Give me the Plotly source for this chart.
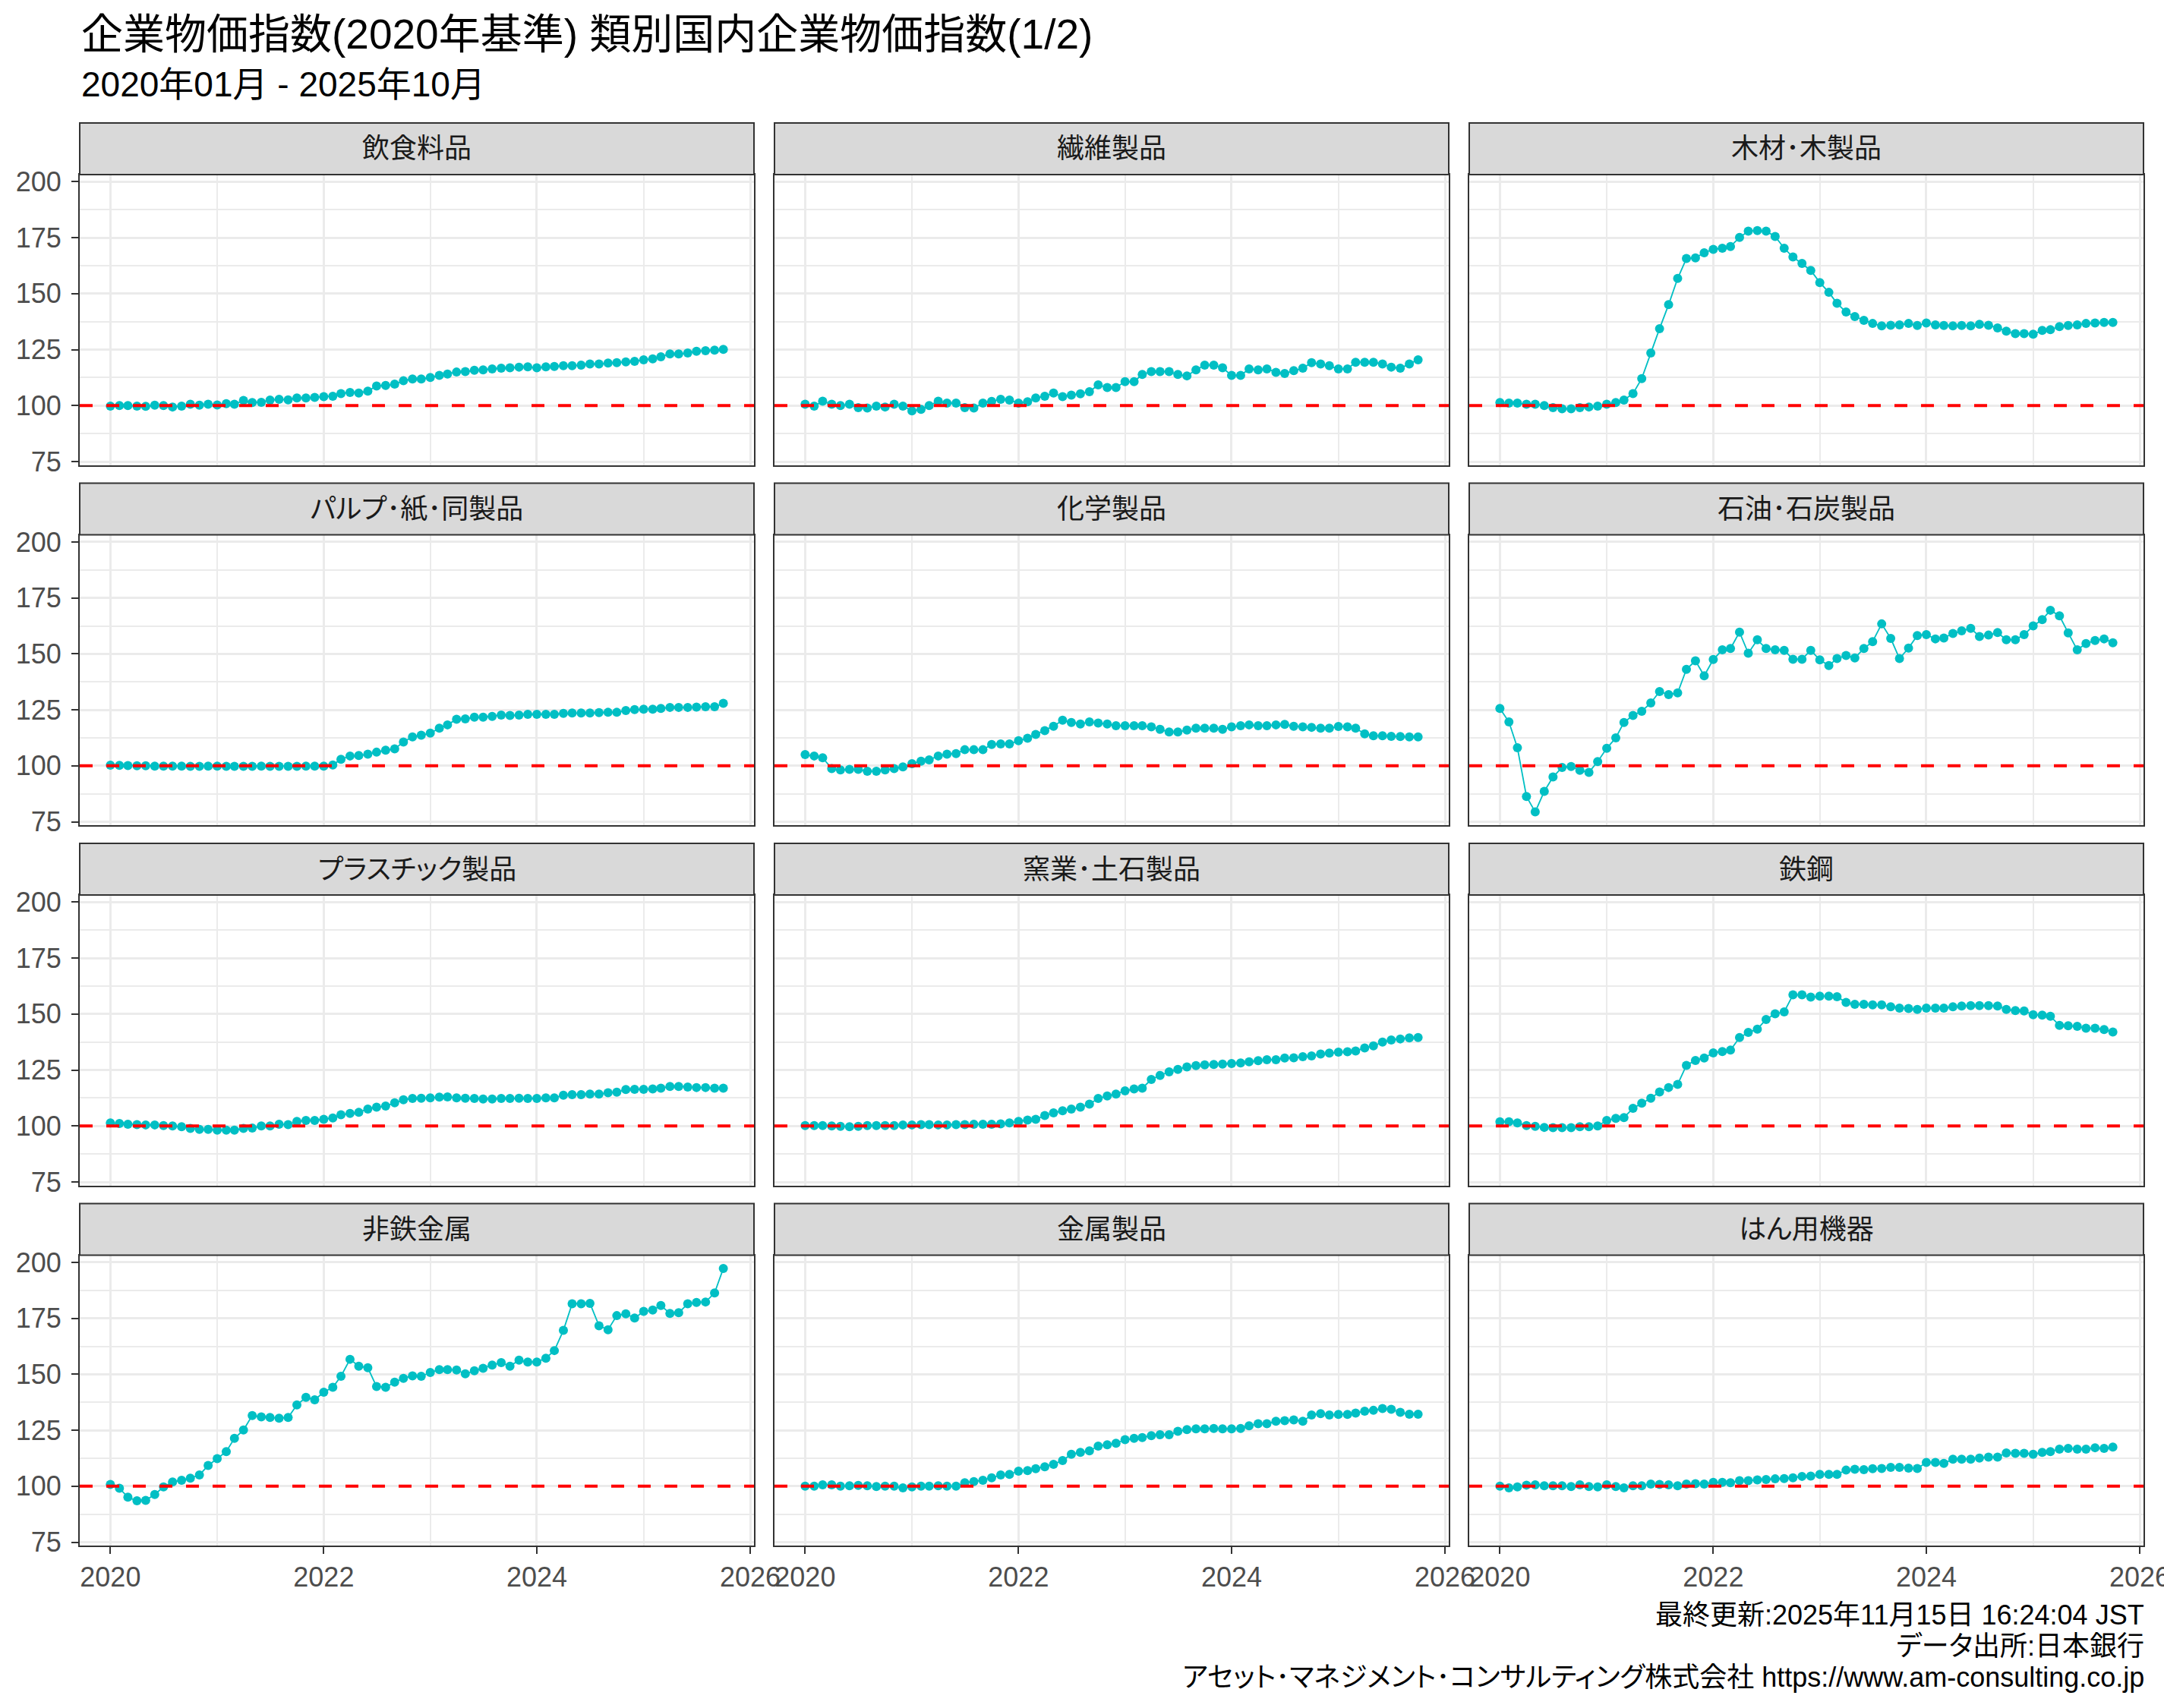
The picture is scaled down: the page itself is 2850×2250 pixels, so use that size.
import pandas as pd
import plotly.graph_objects as go

# ---------------- data ----------------
DATES = pd.date_range("2020-01-01", periods=70, freq="MS")

CATEGORIES = ["飲食料品", "繊維製品", "木材･木製品",
              "パルプ･紙･同製品", "化学製品", "石油･石炭製品",
              "プラスチック製品", "窯業･土石製品", "鉄鋼",
              "非鉄金属", "金属製品", "はん用機器"]

FOOD = [99.8, 100.0, 100.0, 99.8, 99.7, 100.2, 100.0, 99.4, 99.8, 100.6, 100.2, 100.6,
        100.3, 100.9, 100.6, 102.3, 101.4, 101.5, 102.5, 102.8, 102.6, 103.4, 103.4, 103.7,
        104.0, 104.2, 105.4, 105.9, 105.6, 106.5, 108.8, 109.0, 109.6, 111.1, 111.9, 111.9,
        112.6, 113.5, 114.1, 115.0, 115.2, 115.8, 116.0, 116.4, 116.7, 116.9, 117.2, 117.3,
        116.9, 117.3, 117.5, 117.8, 117.8, 118.1, 118.6, 118.6, 119.0, 119.2, 119.5, 119.8,
        120.5, 120.9, 121.8, 123.1, 123.1, 123.5, 124.3, 124.5, 124.8, 125.1]

TEXTILE = [100.6, 99.8, 102.0, 100.6, 100.0, 100.6, 99.1, 98.9, 99.8, 99.4, 100.6, 99.8,
           97.7, 98.3, 100.0, 102.0, 101.1, 101.1, 99.1, 98.9, 101.1, 101.9, 102.8, 102.5,
           101.1, 101.7, 103.4, 104.2, 105.6, 104.0, 104.7, 105.3, 106.2, 109.3, 108.1, 108.1,
           110.7, 110.7, 113.9, 115.2, 115.2, 115.2, 113.9, 113.3, 116.0, 118.1, 118.1, 116.9,
           113.5, 113.5, 116.4, 116.0, 116.4, 114.9, 114.4, 115.6, 116.7, 119.2, 118.6, 117.8,
           116.4, 116.4, 119.4, 119.4, 119.4, 118.6, 117.2, 116.7, 118.6, 120.5]

WOOD = [101.4, 101.1, 101.1, 100.6, 100.6, 100.0, 99.1, 98.6, 98.6, 99.1, 99.4, 99.8,
        100.6, 101.4, 102.5, 105.4, 112.1, 123.5, 134.4, 145.1, 156.8, 165.7, 166.0, 168.3,
        169.8, 170.3, 171.1, 175.1, 177.9, 178.2, 177.9, 175.6, 170.3, 166.4, 163.5, 160.4,
        155.0, 150.6, 145.7, 141.8, 139.8, 138.1, 136.7, 135.6, 135.9, 136.1, 136.7, 135.8,
        136.9, 136.1, 135.8, 135.6, 135.8, 135.6, 136.3, 135.9, 134.7, 133.3, 132.2, 132.2,
        131.9, 133.6, 133.9, 135.3, 135.8, 136.1, 136.7, 136.9, 137.2, 137.2]

PULP = [100.3, 100.2, 100.1, 100.0, 100.0, 99.9, 99.9, 99.9, 99.9, 99.8, 99.8, 99.9,
        99.9, 99.8, 99.8, 99.8, 99.8, 99.9, 99.8, 99.8, 99.8, 99.8, 99.9, 99.9,
        99.9, 100.4, 102.9, 104.4, 104.6, 105.2, 106.1, 107.0, 107.6, 110.6, 112.9, 113.7,
        114.6, 116.8, 118.3, 120.8, 121.0, 121.7, 121.7, 122.1, 122.7, 122.5, 122.7, 123.0,
        123.0, 123.0, 123.0, 123.4, 123.6, 123.6, 123.6, 123.8, 123.9, 123.9, 124.7, 125.1,
        125.3, 125.3, 125.6, 126.1, 126.1, 126.1, 126.2, 126.4, 126.4, 127.9]

CHEM = [105.0, 104.4, 103.6, 98.8, 98.2, 98.4, 98.4, 97.6, 97.6, 98.2, 98.8, 99.5,
        101.0, 102.1, 102.7, 104.4, 105.2, 105.5, 107.2, 107.2, 107.2, 109.5, 109.8, 109.8,
        111.2, 112.3, 114.0, 115.7, 117.7, 120.4, 119.4, 118.7, 119.6, 119.1, 118.7, 117.9,
        117.9, 117.9, 117.9, 117.4, 116.3, 115.1, 115.1, 116.0, 116.8, 116.8, 116.8, 116.3,
        117.4, 117.9, 118.3, 117.9, 117.9, 118.3, 118.5, 117.7, 117.4, 117.2, 116.8, 116.8,
        117.6, 117.4, 116.8, 114.3, 113.4, 113.4, 113.2, 113.1, 112.9, 112.9]

PETRO = [125.6, 119.6, 108.1, 86.3, 79.4, 88.6, 95.0, 99.3, 99.7, 98.0, 97.1, 101.9,
         107.8, 112.5, 119.4, 122.5, 124.4, 128.1, 133.2, 131.8, 132.6, 143.1, 146.9, 140.2,
         147.5, 151.8, 152.4, 159.7, 150.3, 156.3, 152.4, 151.8, 151.6, 147.6, 147.6, 151.6,
         147.3, 144.8, 147.9, 149.3, 148.2, 152.4, 155.5, 163.4, 156.9, 147.9, 152.6, 158.2,
         158.6, 156.7, 157.1, 159.1, 160.3, 161.4, 157.8, 158.4, 159.5, 156.3, 156.3, 158.6,
         162.5, 165.3, 169.5, 167.0, 159.4, 151.8, 154.6, 156.0, 156.7, 155.0]

PLASTIC = [101.4, 101.1, 100.8, 100.6, 100.5, 100.5, 100.2, 100.0, 99.7, 98.9, 98.5, 98.5,
           98.2, 98.2, 98.2, 98.9, 99.1, 100.0, 100.0, 100.8, 100.6, 102.1, 102.5, 102.5,
           103.0, 103.6, 105.0, 105.6, 106.1, 107.6, 108.4, 108.9, 110.4, 111.7, 112.3, 112.4,
           112.6, 112.9, 113.0, 112.6, 112.4, 112.3, 112.1, 112.1, 112.3, 112.3, 112.4, 112.3,
           112.3, 112.6, 112.6, 113.8, 114.0, 114.0, 114.3, 114.3, 114.9, 115.1, 116.3, 116.4,
           116.4, 116.6, 116.9, 117.7, 117.7, 117.4, 117.2, 117.2, 116.9, 116.9]

CERAMIC = [100.2, 100.2, 100.2, 100.0, 99.9, 99.7, 99.9, 100.2, 100.2, 100.2, 100.2, 100.5,
           100.5, 100.6, 100.6, 100.5, 100.5, 100.6, 100.6, 100.8, 100.8, 100.8, 101.0, 101.4,
           102.1, 102.7, 103.0, 104.7, 105.9, 106.8, 107.6, 108.4, 109.8, 112.3, 113.4, 114.3,
           115.7, 116.6, 116.9, 120.8, 122.6, 124.2, 125.3, 126.4, 127.0, 127.3, 127.5, 127.7,
           127.9, 128.2, 128.7, 129.2, 129.6, 129.6, 130.4, 130.5, 131.0, 131.3, 132.2, 132.6,
           133.0, 133.2, 133.5, 134.9, 135.8, 137.5, 138.4, 138.9, 139.4, 139.5]

STEEL = [101.9, 101.9, 101.4, 100.2, 99.9, 99.4, 99.3, 99.3, 99.3, 99.7, 99.7, 100.0,
         102.5, 103.4, 103.8, 107.9, 110.2, 112.4, 115.2, 117.2, 118.6, 127.1, 129.3, 130.4,
         132.7, 133.3, 133.9, 139.5, 141.8, 143.3, 147.6, 150.1, 151.0, 158.6, 158.6, 157.6,
         158.0, 158.0, 157.8, 155.2, 154.4, 154.4, 154.1, 154.1, 153.3, 152.7, 152.5, 152.1,
         152.7, 152.7, 152.7, 153.3, 153.6, 153.8, 153.8, 153.8, 153.6, 152.1, 151.6, 151.4,
         149.7, 149.5, 149.0, 145.0, 144.8, 144.5, 143.7, 143.7, 143.1, 142.0]

NONFERROUS = [100.8, 99.1, 95.1, 93.5, 93.7, 96.3, 99.7, 101.9, 102.7, 103.6, 105.0, 109.3,
              112.3, 115.5, 121.4, 125.1, 131.6, 131.0, 130.7, 130.4, 130.7, 136.3, 139.7, 138.6,
              142.0, 144.2, 149.1, 156.7, 153.6, 152.9, 144.5, 144.2, 146.5, 148.2, 149.3, 149.1,
              150.8, 152.1, 152.1, 151.9, 150.2, 151.6, 152.7, 154.1, 155.2, 153.6, 156.3, 155.5,
              155.5, 157.2, 160.6, 169.6, 181.5, 181.5, 181.7, 171.7, 169.9, 176.2, 177.0, 175.1,
              178.1, 178.7, 180.7, 177.2, 177.5, 181.5, 182.1, 182.3, 186.3, 197.3]

METAL = [100.0, 100.0, 100.6, 100.6, 100.0, 100.2, 100.4, 100.2, 99.9, 100.0, 100.0, 99.3,
         99.7, 100.0, 100.0, 100.2, 100.0, 100.0, 101.6, 102.1, 102.7, 103.8, 105.0, 105.3,
         106.7, 107.0, 107.8, 108.7, 109.8, 111.5, 114.3, 115.1, 115.8, 117.9, 118.5, 119.2,
         120.8, 121.4, 121.7, 122.6, 123.0, 123.0, 124.5, 125.3, 125.6, 125.6, 125.8, 125.6,
         125.6, 125.8, 127.0, 127.9, 127.9, 129.0, 129.3, 129.6, 129.0, 131.8, 132.4, 131.8,
         132.1, 132.1, 132.7, 133.5, 133.9, 134.7, 134.4, 133.0, 132.2, 132.2]

MACHINERY = [100.0, 99.3, 99.7, 100.5, 100.6, 100.2, 100.2, 100.2, 99.9, 100.6, 99.9, 99.7,
             100.6, 99.9, 99.3, 100.2, 100.2, 101.0, 100.8, 100.6, 100.2, 101.0, 101.1, 101.0,
             101.7, 101.7, 101.6, 102.5, 102.5, 102.8, 103.0, 103.3, 103.4, 103.8, 104.4, 104.5,
             105.3, 105.3, 105.3, 107.2, 107.6, 107.4, 107.8, 107.9, 108.4, 108.4, 108.1, 107.9,
             110.6, 110.6, 110.2, 112.1, 112.1, 112.1, 112.6, 113.0, 113.0, 114.9, 114.7, 114.7,
             114.3, 115.1, 115.5, 116.6, 116.9, 116.6, 116.6, 117.2, 116.9, 117.5]

SERIES = [FOOD, TEXTILE, WOOD, PULP, CHEM, PETRO,
          PLASTIC, CERAMIC, STEEL, NONFERROUS, METAL, MACHINERY]

BASE = 100
Y_TICKS = [75, 100, 125, 150, 175, 200]
Y_MINOR = [87.5, 112.5, 137.5, 162.5, 187.5]
X_TICKS = ["2020-01-01", "2022-01-01", "2024-01-01", "2026-01-01"]
X_TICK_LABELS = ["2020", "2022", "2024", "2026"]
X_MINOR = ["2021-01-01", "2023-01-01", "2025-01-01"]

TITLE = "企業物価指数(2020年基準) 類別国内企業物価指数(1/2)"
SUBTITLE = "2020年01月 - 2025年10月"
CAPTION = ["最終更新:2025年11月15日 16:24:04 JST",
           "データ出所:日本銀行",
           "アセット･マネジメント･コンサルティング株式会社 https://www.am-consulting.co.jp"]

# ---------------- layout geometry (pixels) ----------------
W, H = 2850, 2250
ML, MR, MT, MB = 105, 27, 162, 214
PW = W - ML - MR          # plotting width
PH = H - MT - MB          # plotting height
NCOL, NROW = 3, 4
HGAP = 27
STRIP = 68
VGAP = 24
PANEL_W = (PW - HGAP * (NCOL - 1)) / NCOL
PANEL_H = (PH - VGAP * (NROW - 1)) / NROW - STRIP

FONT = "'Liberation Sans', Arial, 'Noto Sans CJK JP', sans-serif"
TEAL = "#00BFC4"
GRID = "#EBEBEB"
BORDER = "#333333"

# y range with ggplot-style 5% expansion
all_vals = [v for s in SERIES for v in s]
ymin, ymax = min(all_vals), max(all_vals)
ypad = (ymax - ymin) * 0.05
Y_RANGE = [ymin - ypad, ymax + ypad]
span = DATES[-1] - DATES[0]
X_RANGE = [DATES[0] - span * 0.05, DATES[-1] + span * 0.05]


def px_to_paper_y(y):
    return (H - MB - y) / PH


fig = go.Figure()
layout = {}
shapes = []
annotations = []

for k, (name, vals) in enumerate(zip(CATEGORIES, SERIES)):
    r, c = divmod(k, NCOL)
    n = k + 1
    xs = "" if n == 1 else str(n)
    x0 = c * (PANEL_W + HGAP)
    x1 = x0 + PANEL_W
    strip_top = MT + r * (STRIP + PANEL_H + VGAP)
    plot_top = strip_top + STRIP
    plot_bot = plot_top + PANEL_H
    dx = [x0 / PW, x1 / PW]
    dy = [px_to_paper_y(plot_bot), px_to_paper_y(plot_top)]

    fig.add_trace(go.Scatter(
        x=DATES, y=vals, mode="lines+markers",
        line=dict(color=TEAL, width=1.8),
        marker=dict(color=TEAL, size=12),
        xaxis="x" + xs, yaxis="y" + xs, showlegend=False,
        hovertemplate="%{x|%Y-%m}: %{y}<extra>" + name + "</extra>"))

    bottom = (r == NROW - 1)
    left = (c == 0)
    layout["xaxis" + xs] = dict(
        domain=dx, anchor="y" + xs, type="date", range=X_RANGE,
        automargin=False, ticklabeloverflow="allow",
        tickvals=X_TICKS, ticktext=X_TICK_LABELS,
        showticklabels=bottom, ticks="outside" if bottom else "",
        ticklen=9, tickwidth=2, tickcolor=BORDER,
        tickfont=dict(size=36, color="#4D4D4D", family=FONT),
        showgrid=True, gridcolor=GRID, gridwidth=3.3,
        minor=dict(tickvals=X_MINOR, showgrid=True, gridcolor=GRID,
                   gridwidth=1.7, ticks=""),
        showline=True, mirror=True, linecolor=BORDER, linewidth=2,
        zeroline=False, fixedrange=True)
    layout["yaxis" + xs] = dict(
        domain=dy, anchor="x" + xs, range=Y_RANGE,
        automargin=False,
        tickvals=Y_TICKS, showticklabels=left,
        ticks="outside" if left else "",
        ticklen=9, tickwidth=2, tickcolor=BORDER, ticklabelstandoff=6,
        tickfont=dict(size=36, color="#4D4D4D", family=FONT),
        showgrid=True, gridcolor=GRID, gridwidth=3.3,
        minor=dict(tickvals=Y_MINOR, showgrid=True, gridcolor=GRID,
                   gridwidth=1.7, ticks=""),
        showline=True, mirror=True, linecolor=BORDER, linewidth=2,
        zeroline=False, fixedrange=True)

    # reference line at base value
    shapes.append(dict(type="line", xref="x" + xs + " domain", x0=0, x1=1,
                       yref="y" + xs, y0=BASE, y1=BASE, layer="above",
                       line=dict(color="red", width=4, dash="17px,18px")))
    # strip
    shapes.append(dict(type="rect", xref="paper", yref="paper",
                       x0=dx[0], x1=dx[1],
                       y0=px_to_paper_y(plot_top), y1=px_to_paper_y(strip_top),
                       fillcolor="#D9D9D9", line=dict(color=BORDER, width=2)))
    annotations.append(dict(text=name, xref="paper", yref="paper",
                            x=(dx[0] + dx[1]) / 2,
                            y=px_to_paper_y((strip_top + plot_top) / 2),
                            xanchor="center", yanchor="middle", showarrow=False,
                            font=dict(size=36, color="#1A1A1A", family=FONT)))

# title / subtitle
annotations.append(dict(text=TITLE, xref="paper", yref="paper", x=0,
                        y=px_to_paper_y(45), xanchor="left", yanchor="middle",
                        align="left", showarrow=False,
                        font=dict(size=55, color="black", family=FONT)))
annotations.append(dict(text=SUBTITLE, xref="paper", yref="paper", x=0,
                        y=px_to_paper_y(111), xanchor="left", yanchor="middle",
                        align="left", showarrow=False,
                        font=dict(size=46, color="black", family=FONT)))
# caption
for line, ypx in zip(CAPTION, [2127, 2168, 2209]):
    annotations.append(dict(text=line, xref="paper", yref="paper",
                            x=(PW + 3) / PW, y=px_to_paper_y(ypx),
                            xanchor="right", yanchor="middle", align="right",
                            showarrow=False,
                            font=dict(size=36, color="black", family=FONT)))

fig.update_layout(
    width=W, height=H,
    margin=dict(l=ML, r=MR, t=MT, b=MB, pad=0),
    paper_bgcolor="white", plot_bgcolor="white",
    font=dict(family=FONT),
    showlegend=False,
    shapes=shapes, annotations=annotations,
    **layout)

# page CSS: no body margin, proportional kana widths
POST_SCRIPT = (
    "var s=document.createElement('style');"
    "s.textContent='html,body{margin:0;padding:0;overflow:hidden;}"
    " text{font-feature-settings:\"palt\" 1;}';"
    "document.head.appendChild(s);"
)

fig.write_html("out.html", post_script=POST_SCRIPT,
               config={"displayModeBar": False})
